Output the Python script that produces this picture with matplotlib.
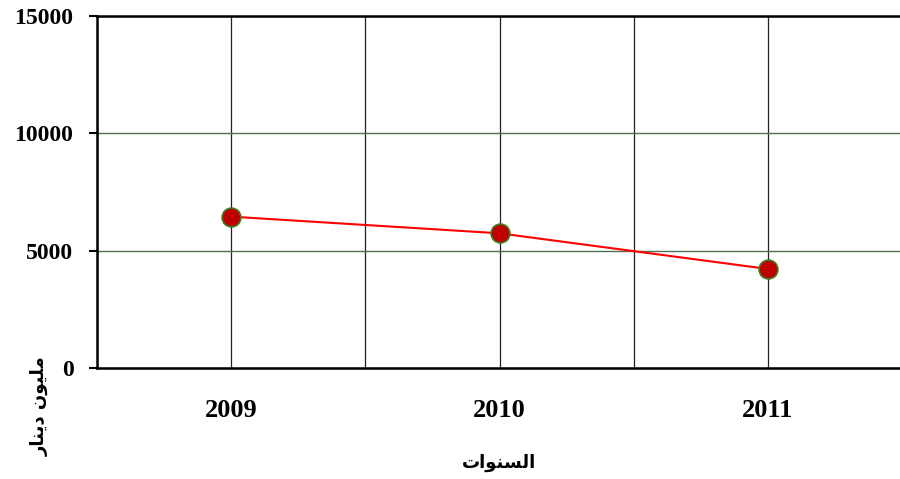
import numpy as np
from matplotlib import pyplot as plt

# data
years = ['2009', '2010', '2011']
values = [6450, 5740, 4220]
y_ticks = [0, 5000, 10000, 15000]

# Arabic labels written in presentation forms (visual order) so they join correctly
x_title = '\uFE95\uFE8D\uFEEE\uFEE8\uFEB4\uFEDF\uFE8D'  # السنوات
y_title = '\uFEAD\uFE8E\uFEE8\uFEF3\uFEA9 \uFEE5\uFEEE\uFEF4\uFEE0\uFEE3'  # مليون دينار

plt.rcParams['font.family'] = ['Liberation Serif', 'DejaVu Sans']

fig = plt.figure(figsize=(9, 4.79), dpi=100)
ax = fig.add_axes([97 / 900, 1 - 368 / 479, 805 / 900, 352 / 479])

x = np.arange(len(years))
ax.plot(x, values, c='#ff0000', lw=1.5, zorder=3)
ax.plot(x, values, 'o', ms=13.5, mfc='#c00000', mec='#3d7a1e', mew=1.2, zorder=4, clip_on=False)

ax.set_xlim(-0.5, 2.5)
ax.set_ylim(0, 15000)
ax.set_xticks(x)
ax.set_xticklabels(years, fontsize=19, fontweight='bold')
ax.set_xticks([-0.5, 0.5, 1.5, 2.5], minor=True)
ax.set_yticks(y_ticks)
ax.set_yticklabels([str(v) for v in y_ticks], fontsize=17, fontweight='bold')

ax.tick_params(axis='x', which='both', length=0, pad=22)
ax.tick_params(axis='y', length=6, width=1.5, pad=11)

ax.grid(axis='x', which='both', color='#222222', lw=0.9)
ax.grid(axis='y', color='#4f6f4f', lw=1.0)
ax.set_axisbelow(True)

for s in ['top', 'left', 'bottom']:
    ax.spines[s].set_linewidth(1.8)
ax.spines['right'].set_visible(False)

fig.text(499 / 900, 1 - 463 / 479, x_title, ha='center', va='center',
         fontsize=13, fontweight='bold', family=['DejaVu Sans'])
fig.text(40 / 900, 1 - 406 / 479, y_title, ha='center', va='center', rotation=90,
         fontsize=13, fontweight='bold', family=['DejaVu Sans'])

fig.savefig('out.png', dpi=100)
